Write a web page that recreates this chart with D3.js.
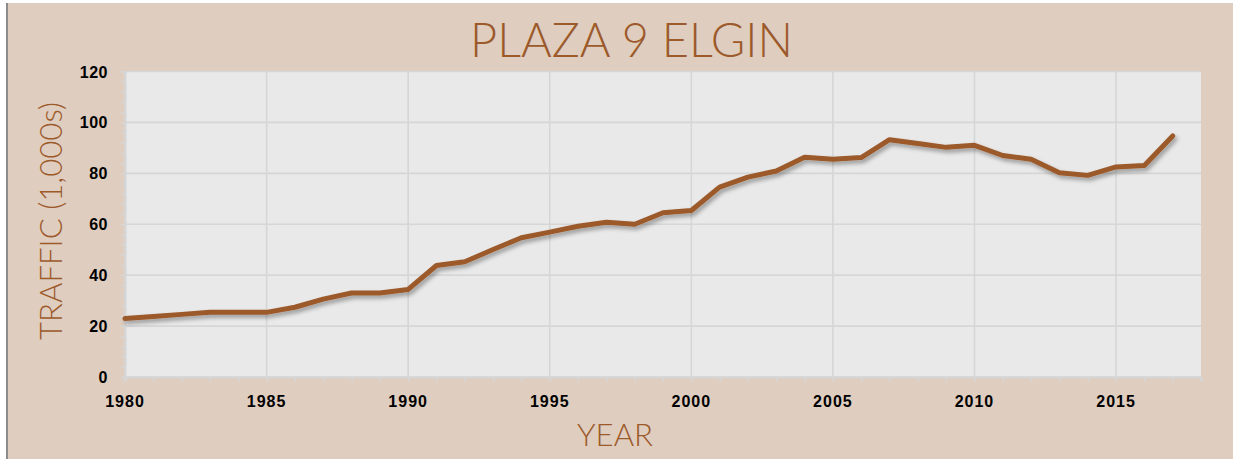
<!DOCTYPE html>
<html>
<head>
<meta charset="utf-8">
<script src="https://cdn.jsdelivr.net/npm/d3@7"></script>
<style>
  body { margin: 0; background: #ffffff; }
  svg { display: block; }
</style>
</head>
<body>
<script>
// values (thousands)
const years = [1980, 1981, 1982, 1983, 1984, 1985, 1986, 1987, 1988, 1989,
	1990, 1991, 1992, 1993, 1994, 1995, 1996, 1997, 1998, 1999,
	2000, 2001, 2002, 2003, 2004, 2005, 2006, 2007, 2008, 2009,
	2010, 2011, 2012, 2013, 2014, 2015, 2016, 2017]
const traffic = [23, 23.8, 24.6, 25.4, 25.4, 25.4, 27.4, 30.6, 33, 33,
	34.4, 43.8, 45.3, 50.1, 54.7, 56.9, 59.2, 60.8, 60, 64.5,
	65.4, 74.6, 78.5, 80.9, 86.3, 85.5, 86.2, 93.2, 91.7, 90.2,
	91, 87, 85.5, 80.2, 79.2, 82.5, 83.1, 94.7]
const xTicks = [1980, 1985, 1990, 1995, 2000, 2005, 2010, 2015]
const yTicks = [0, 20, 40, 60, 80, 100, 120]

const title = 'PLAZA 9 ELGIN'
const yTitle = 'TRAFFIC (1,000s)'
const xTitle = 'YEAR'

const W = 1233, H = 459
const brown = '#9c5a2b'
const m = {left: 125, right: 1201, top: 71.5, bottom: 377}

const svg = d3.select('body').append('svg')
	.attr('width', W)
	.attr('height', H)

// shadow under the line
const defs = svg.append('defs')
defs.append('filter')
	.attr('id', 'shadow')
	.attr('x', '-5%').attr('y', '-20%')
	.attr('width', '110%').attr('height', '140%')
	.append('feDropShadow')
	.attr('dx', 2).attr('dy', 3)
	.attr('stdDeviation', 2)
	.attr('flood-color', '#000')
	.attr('flood-opacity', 0.35)

// frame
svg.append('rect').attr('width', W).attr('height', H).attr('fill', '#ffffff')
svg.append('rect')
	.attr('x', 7).attr('y', 3)
	.attr('width', W - 7).attr('height', H - 3)
	.attr('fill', '#dfcdbf')
svg.append('line')
	.attr('x1', 7).attr('y1', 3).attr('x2', 7).attr('y2', H)
	.style('stroke', '#8c8c8c').style('stroke-width', 2)

const x = d3.scaleLinear().domain([1980, 2018]).range([m.left, m.right])
const y = d3.scaleLinear().domain([0, 120]).range([m.bottom, m.top])

// plot area
svg.append('rect')
	.attr('x', m.left).attr('y', m.top)
	.attr('width', m.right - m.left).attr('height', m.bottom - m.top)
	.attr('fill', '#e9e9e9')

// grid
svg.append('g')
	.selectAll('line')
	.data(xTicks)
	.join('line')
	.attr('x1', d => x(d)).attr('x2', d => x(d))
	.attr('y1', m.top).attr('y2', m.bottom)
	.style('stroke', '#d6d6d6').style('stroke-width', 1.6)
svg.append('g')
	.selectAll('line')
	.data(yTicks)
	.join('line')
	.attr('x1', m.left).attr('x2', m.right)
	.attr('y1', d => y(d)).attr('y2', d => y(d))
	.style('stroke', '#d6d6d6').style('stroke-width', 1.6)

// axes
const xAxis = svg.append('g')
	.attr('transform', 'translate(0,' + m.bottom + ')')
	.call(d3.axisBottom(x).tickValues(d3.range(1980, 2019)).tickSize(5).tickFormat(''))
xAxis.select('.domain').style('stroke', '#d6d6d6').style('stroke-width', 2)
xAxis.selectAll('.tick line').style('stroke', '#d6d6d6').style('stroke-width', 1.5)

svg.append('g')
	.selectAll('text')
	.data(xTicks)
	.join('text')
	.attr('x', d => x(d))
	.attr('y', 407)
	.attr('text-anchor', 'middle')
	.style('font-family', 'Liberation Sans, Arial, sans-serif')
	.style('font-weight', 'bold')
	.style('font-size', '16px')
	.style('letter-spacing', '1px')
	.style('fill', '#000')
	.text(d => d)

const yAxis = svg.append('g')
	.attr('transform', 'translate(' + m.left + ',0)')
	.call(d3.axisLeft(y).tickValues(d3.range(0, 121, 4)).tickSize(4).tickFormat(''))
yAxis.select('.domain').style('stroke', '#d6d6d6').style('stroke-width', 2)
yAxis.selectAll('.tick line').style('stroke', '#d6d6d6').style('stroke-width', 1.5)

svg.append('g')
	.selectAll('text')
	.data(yTicks)
	.join('text')
	.attr('x', 108)
	.attr('y', d => y(d) + 6)
	.attr('text-anchor', 'end')
	.style('font-family', 'Liberation Sans, Arial, sans-serif')
	.style('font-weight', 'bold')
	.style('font-size', '16px')
	.style('letter-spacing', '0.5px')
	.style('fill', '#000')
	.text(d => d)

// line
const line = d3.line()
	.x((d, i) => x(years[i]))
	.y(d => y(d))

svg.append('path')
	.datum(traffic)
	.attr('d', line)
	.attr('fill', 'none')
	.style('stroke', brown)
	.style('stroke-width', 5)
	.style('stroke-linejoin', 'round')
	.style('stroke-linecap', 'round')
	.attr('filter', 'url(#shadow)')

// titles
svg.append('text')
	.attr('x', 631.5).attr('y', 56.5)
	.attr('text-anchor', 'middle')
	.attr('textLength', 323)
	.attr('lengthAdjust', 'spacingAndGlyphs')
	.style('font-family', 'Lato, sans-serif')
	.style('font-weight', 300)
	.style('font-size', '47px')
	.style('fill', brown)
	.text(title)

svg.append('text')
	.attr('transform', 'translate(61.5,221) rotate(-90)')
	.attr('text-anchor', 'middle')
	.attr('textLength', 238)
	.attr('lengthAdjust', 'spacingAndGlyphs')
	.style('font-family', 'Lato, sans-serif')
	.style('font-weight', 300)
	.style('font-size', '32px')
	.style('fill', brown)
	.text(yTitle)

svg.append('text')
	.attr('x', 615).attr('y', 445.5)
	.attr('text-anchor', 'middle')
	.attr('textLength', 76)
	.attr('lengthAdjust', 'spacingAndGlyphs')
	.style('font-family', 'Lato, sans-serif')
	.style('font-weight', 300)
	.style('font-size', '31px')
	.style('fill', brown)
	.text(xTitle)
</script>
</body>
</html>
